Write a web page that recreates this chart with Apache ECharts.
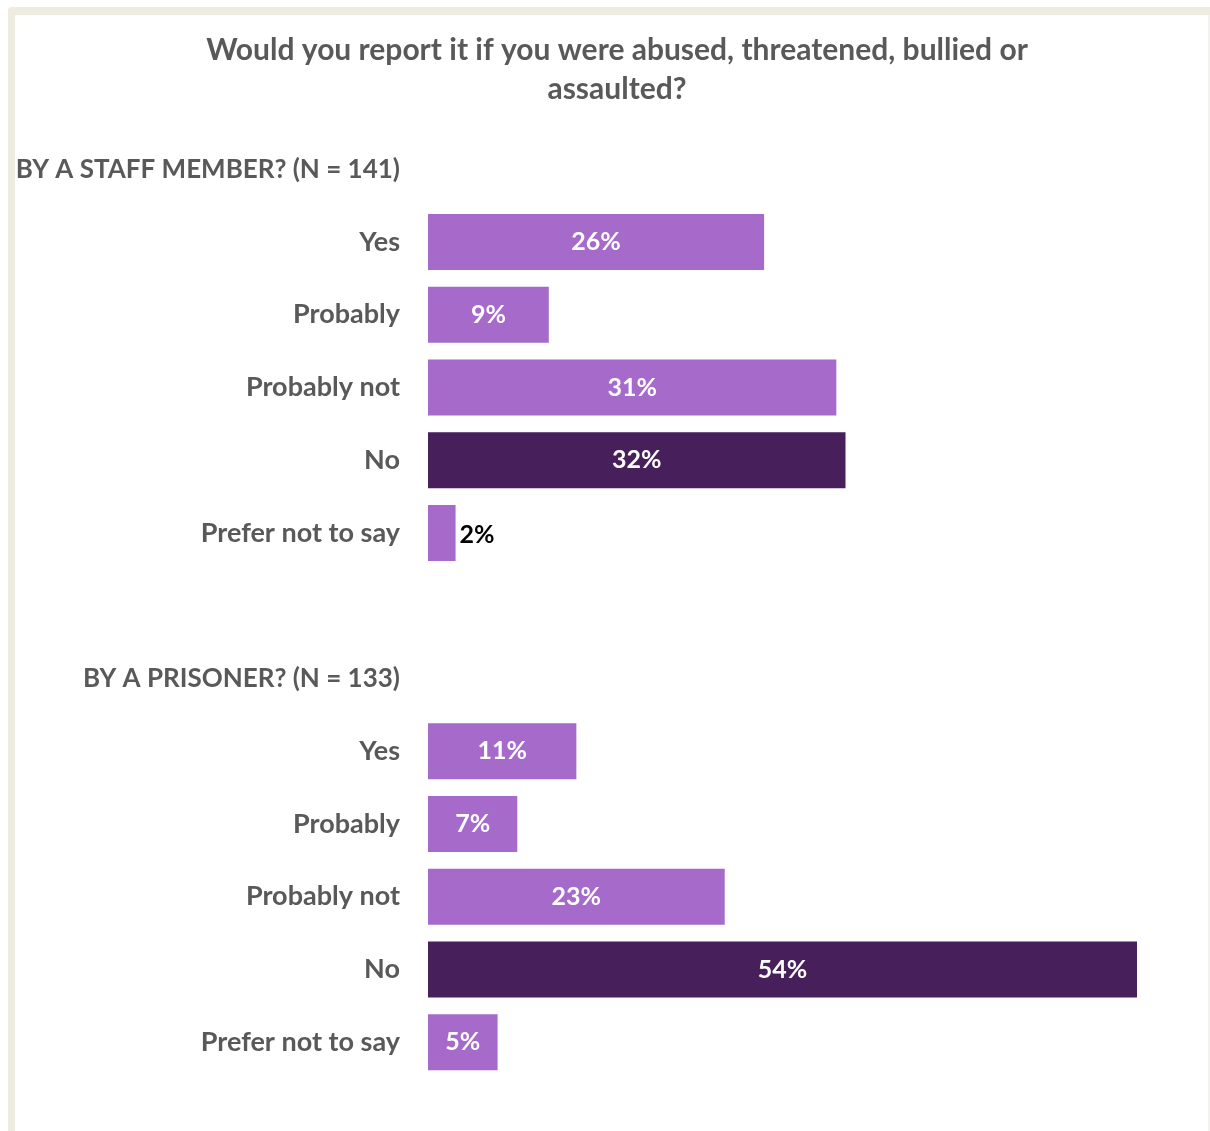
<!DOCTYPE html>
<html>
<head>
<meta charset="utf-8">
<script src="https://cdn.jsdelivr.net/npm/echarts@6/dist/echarts.min.js"></script>
<style>
html,body{margin:0;padding:0;background:#fff;}
#chart{width:1210px;height:1131px;}
</style>
</head>
<body>
<div id="chart"></div>
<script>
const titleText = 'Would you report it if you were abused, threatened, bullied or\nassaulted?';
const header1 = 'BY A STAFF MEMBER? (N = 141)';
const header2 = 'BY A PRISONER? (N = 133)';
const answers = ['Yes', 'Probably', 'Probably not', 'No', 'Prefer not to say'];
// shares in % (labels show them rounded)
const staffValues = [25.6, 9.2, 31.1, 31.8, 2.1];
const prisonerValues = [11.3, 6.8, 22.6, 54, 5.3];

const LIGHT = '#A66ACB';
const DARK = '#471F5B';
const GRAY = '#595959';

// rows: header, 5 answers, blank, header, 5 answers
const rows = [{name: header1, header: true}];
answers.forEach((a, i) => rows.push({name: a, value: staffValues[i]}));
rows.push({name: '', blank: true});
rows.push({name: header2, header: true});
answers.forEach((a, i) => rows.push({name: a, value: prisonerValues[i]}));

const categories = rows.map(r => r.name);
const seriesData = rows.map(r => {
  if (r.value == null) return '-';
  const small = r.value < 4;
  return {
    value: r.value,
    itemStyle: {color: r.name === 'No' ? DARK : LIGHT},
    label: small ? {position: 'right', color: '#000', distance: 4, offset: [0, 2]} : {position: 'inside', color: '#fff'}
  };
});

const FONT = 'Lato';
const chart = echarts.init(document.getElementById('chart'), null, {renderer: 'canvas'});
chart.setOption({
  animation: false,
  backgroundColor: '#fff',
  title: {
    text: titleText,
    left: 612,
    top: 26,
    textAlign: 'center',
    textStyle: {fontFamily: FONT, fontWeight: 'bold', fontSize: 30, color: GRAY, lineHeight: 39}
  },
  graphic: [
    {type: 'rect', shape: {x: 8, y: 7, width: 1210, height: 8, r: [4, 0, 0, 0]}, style: {fill: '#EEEBE0'}},
    {type: 'rect', shape: {x: 8, y: 7, width: 7, height: 1130, r: [4, 0, 0, 0]}, style: {fill: '#EEEBE0'}},
    {type: 'rect', shape: {x: 1208, y: 15, width: 2, height: 1116}, style: {fill: '#F2F2F0'}}
  ],
  grid: {left: 428, right: 73, top: 132.9, bottom: 52.4, containLabel: false},
  xAxis: {
    type: 'value', min: 0, max: 54,
    show: false
  },
  yAxis: {
    type: 'category',
    inverse: true,
    data: categories,
    axisLine: {show: false},
    axisTick: {show: false},
    splitLine: {show: false},
    axisLabel: {
      margin: 28,
      interval: 0,
      formatter: (v, i) => rows[i].header ? '{h|' + v + '}' : '{c|' + v + '}',
      rich: {
        h: {fontFamily: FONT, fontWeight: 'bold', fontSize: 26, color: GRAY},
        c: {fontFamily: FONT, fontWeight: 'bold', fontSize: 27, color: GRAY}
      }
    }
  },
  series: [{
    type: 'bar',
    data: seriesData,
    barWidth: 56,
    label: {
      show: true,
      formatter: p => Math.round(p.value) + '%',
      fontFamily: FONT, fontWeight: 'bold', fontSize: 25
    }
  }]
});
</script>
</body>
</html>
